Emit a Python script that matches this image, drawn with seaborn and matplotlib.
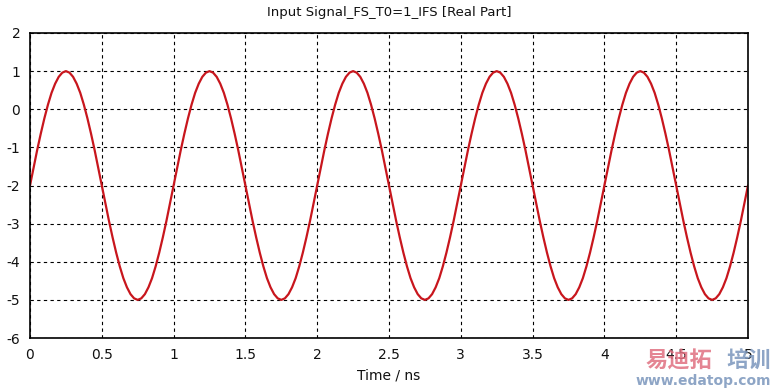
import numpy as np
import pandas as pd
import seaborn as sns
import matplotlib.pyplot as plt

# Time samples (ns) and real-part values (0.025 ns step)
time_ns = [round(0.025 * i, 3) for i in range(201)]
one_period = [-2.00, -1.53, -1.07, -0.64, -0.24, 0.12, 0.43, 0.67, 0.85, 0.96,
              1.00, 0.96, 0.85, 0.67, 0.43, 0.12, -0.24, -0.64, -1.07, -1.53,
              -2.00, -2.47, -2.93, -3.36, -3.76, -4.12, -4.43, -4.67, -4.85, -4.96,
              -5.00, -4.96, -4.85, -4.67, -4.43, -4.12, -3.76, -3.36, -2.93, -2.47]
real_part = (one_period * 5) + [-2.00]

x_ticks = [0, 0.5, 1, 1.5, 2, 2.5, 3, 3.5, 4, 4.5, 5]
x_tick_labels = ["0", "0.5", "1", "1.5", "2", "2.5", "3", "3.5", "4", "4.5", "5"]
y_ticks = [-6, -5, -4, -3, -2, -1, 0, 1, 2]

title = "Input Signal_FS_T0=1_IFS [Real Part]"
x_label = "Time / ns"

df = pd.DataFrame({"t": time_ns, "v": real_part})

sns.set_style("white")
plt.rcParams['font.family'] = ['DejaVu Sans', 'Noto Sans CJK SC']
plt.rcParams['axes.unicode_minus'] = False

fig = plt.figure(figsize=(7.76, 3.88), dpi=100)
ax = fig.add_axes([30 / 776, 1 - 338 / 388, 718 / 776, 305 / 388])

sns.lineplot(data=df, x="t", y="v", ax=ax, color="#c8161d", linewidth=1.6)

ax.set_xlim(0, 5)
ax.set_ylim(-6, 2)
ax.set_xticks(x_ticks)
ax.set_xticklabels(x_tick_labels)
ax.set_yticks(y_ticks)
ax.tick_params(axis="both", direction="out", length=4, width=1, color="black",
               labelsize=10, pad=3, labelcolor="#111111")
ax.grid(True, color="black", linestyle=(0, (3, 3)), linewidth=0.8)
for s in ax.spines.values():
    s.set_color("black")
    s.set_linewidth(1.2)

ax.set_xlabel(x_label, fontsize=10, labelpad=5, color="#111111")
ax.set_ylabel("")
ax.set_title(title, fontsize=9.5, pad=12, color="#111111")

# watermark
fig.text(712 / 776, 1 - 368 / 388, "易迪拓", fontsize=16, fontweight="bold", ha="right",
         color="#e07080", alpha=0.85, family=['Noto Sans CJK SC', 'DejaVu Sans'])
fig.text(771 / 776, 1 - 368 / 388, "培训", fontsize=16, fontweight="bold", ha="right",
         color="#7a96bc", alpha=0.85, family=['Noto Sans CJK SC', 'DejaVu Sans'])
fig.text(771 / 776, 1 - 385 / 388, "www.edatop.com", fontsize=10, fontweight="bold",
         ha="right", color="#7a96bc", alpha=0.85)

fig.savefig("out.png", dpi=100)
